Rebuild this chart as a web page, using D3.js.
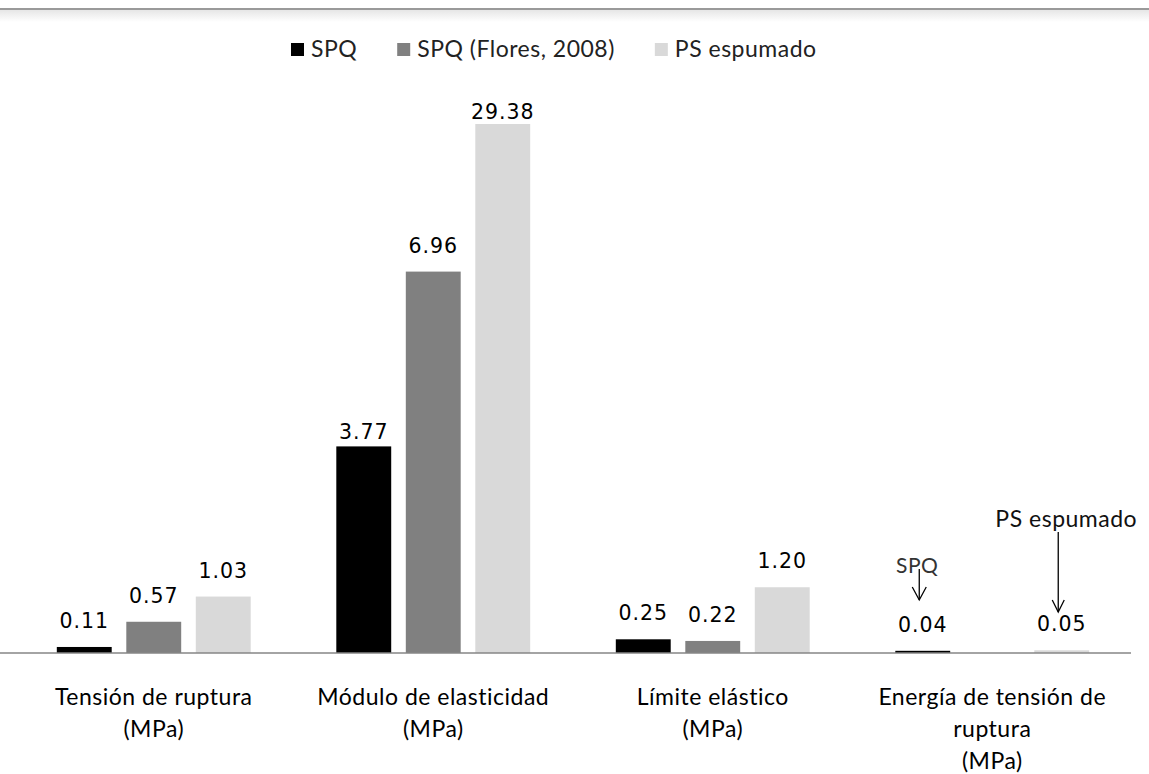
<!DOCTYPE html>
<html><head><meta charset="utf-8">
<script src="https://cdn.jsdelivr.net/npm/d3@7"></script>
<style>body{margin:0;background:#fff} svg{display:block}</style>
</head><body>
<svg id="c" width="1149" height="774"></svg>
<script>
const categories = ["Tensión de ruptura\n(MPa)", "Módulo de elasticidad\n(MPa)", "Límite elástico\n(MPa)", "Energía de tensión de\nruptura\n(MPa)"];
const series = ["SPQ", "SPQ (Flores, 2008)", "PS espumado"];
const spq = [0.11, 3.77, 0.25, 0.04];
const flores = [0.57, 6.96, 0.22, null];
const psEspumado = [1.03, 29.38, 1.20, 0.05];
const colors = ["#000000", "#808080", "#d9d9d9"];
const annotations = [{text: "SPQ", cat: 3, ser: 0}, {text: "PS espumado", cat: 3, ser: 2}];

const values = [spq, flores, psEspumado];
const data = categories.map((c, i) => ({cat: c, vals: series.map((s, j) => ({ser: s, j, v: values[j][i]}))}));

const svg = d3.select("#c");
const W = 1149, H = 774;
const txtFont = "Lato, 'Open Sans', sans-serif";
const numFont = "'DejaVu Sans', sans-serif";

// top frame line
const defs = svg.append("defs");
const g0 = defs.append("linearGradient").attr("id", "shade").attr("x1", 0).attr("x2", 0).attr("y1", 0).attr("y2", 1);
g0.append("stop").attr("offset", 0).attr("stop-color", "#e6e6e6");
g0.append("stop").attr("offset", 1).attr("stop-color", "#ffffff");
svg.append("rect").attr("x", 0).attr("y", 10).attr("width", W).attr("height", 12).attr("fill", "url(#shade)");
svg.append("line").attr("x1", 0).attr("x2", W).attr("y1", 9).attr("y2", 9).attr("stroke", "#9a9a9a").attr("stroke-width", 2);

const x0 = d3.scaleBand().domain(categories).range([14, 1132]).paddingInner(0).paddingOuter(0);
const x1 = d3.scaleBand().domain(series).range([0, x0.bandwidth()]).paddingInner(0.21).paddingOuter(0.616);
const y = d3.scaleLinear().domain([0, 10]).range([653, 105]).clamp(true);

// bars
const groups = svg.append("g").selectAll("g").data(data).join("g")
  .attr("transform", d => `translate(${x0(d.cat)},0)`);
groups.selectAll("rect").data(d => d.vals.filter(v => v.v != null)).join("rect")
  .attr("x", d => x1(d.ser)).attr("width", x1.bandwidth())
  .attr("y", d => y(d.v)).attr("height", d => y(0) - y(d.v))
  .attr("fill", d => colors[d.j]);

// axis line
const axis = d3.axisBottom(x0).tickSize(0).tickFormat("");
svg.append("g").attr("transform", `translate(0,${y(0)})`).call(axis)
  .call(g => g.select(".domain").attr("stroke", "#868686").attr("stroke-width", 1.5).attr("d", `M-1,0H1131`));

// value labels
const labelNudge = {"1-0": 12};
groups.each(function(d, i) {
  const g = d3.select(this);
  d.vals.filter(v => v.v != null).forEach(v => {
    const cx = x1(v.ser) + x1.bandwidth() / 2;
    const clipped = v.v > y.domain()[1];
    let by = clipped ? y.range()[1] + 14 : y(v.v) - 19 + (labelNudge[i + "-" + v.j] || 0);
    const t = g.append("text").attr("x", cx).attr("y", by).attr("text-anchor", "middle")
      .attr("font-family", numFont).attr("font-size", 20.5).attr("letter-spacing", 1)
      .attr("fill", "#000").text(v.v.toFixed(2));
    if (clipped) {
      const bb = t.node().getBBox();
      g.insert("rect", "text").attr("x", bb.x - 4).attr("y", y.range()[1] - 9).attr("width", bb.width + 8).attr("height", 28).attr("fill", "#fff");
    }
  });
});

// category labels
svg.append("g").selectAll("text").data(categories).join("text")
  .attr("x", d => x0(d) + x0.bandwidth() / 2).attr("y", 705)
  .attr("text-anchor", "middle").attr("font-family", txtFont).attr("font-size", 23).attr("letter-spacing", 0.5).attr("fill", "#000")
  .each(function(d) {
    const t = d3.select(this);
    d.split("\n").forEach((line, k) => {
      t.append("tspan").attr("x", x0(d) + x0.bandwidth() / 2).attr("dy", k === 0 ? 0 : 32).text(line);
    });
  });

// annotations with arrows
const ann = svg.append("g");
annotations.forEach(a => {
  const cat = categories[a.cat], ser = series[a.ser];
  const ax = x0(cat) + x1(ser) + x1.bandwidth() / 2 - 3.5;
  const isSPQ = a.ser === 0;
  const y1 = isSPQ ? 569 : 532, y2 = isSPQ ? 600 : 612, hw = isSPQ ? 7 : 6, hl = isSPQ ? 13 : 12;
  ann.append("text").attr("x", isSPQ ? ax - 2 : ax + 8).attr("y", isSPQ ? 573 : 527)
    .attr("text-anchor", "middle").attr("font-family", txtFont).attr("font-size", isSPQ ? 21 : 23).attr("letter-spacing", 0.5)
    .attr("fill", isSPQ ? "#333" : "#111").text(a.text);
  ann.append("line").attr("x1", ax).attr("x2", ax).attr("y1", y1).attr("y2", y2).attr("stroke", "#000").attr("stroke-width", 1.3);
  ann.append("path").attr("d", `M${ax - hw},${y2 - hl}L${ax},${y2}L${ax + hw},${y2 - hl}`).attr("fill", "none").attr("stroke", "#000").attr("stroke-width", 1.3);
});

// legend
const leg = svg.append("g").attr("transform", "translate(291,0)");
let lx = 0;
series.forEach((s, j) => {
  const gi = leg.append("g").attr("transform", `translate(${lx},0)`);
  gi.append("rect").attr("x", 0).attr("y", 43).attr("width", 13).attr("height", 13).attr("fill", colors[j]);
  const t = gi.append("text").attr("x", 20).attr("y", 57).attr("font-family", txtFont).attr("font-size", 23).attr("letter-spacing", 0.5).attr("fill", "#222").text(s);
  lx += 20 + t.node().getComputedTextLength() + 40;
});
</script>
</body></html>
